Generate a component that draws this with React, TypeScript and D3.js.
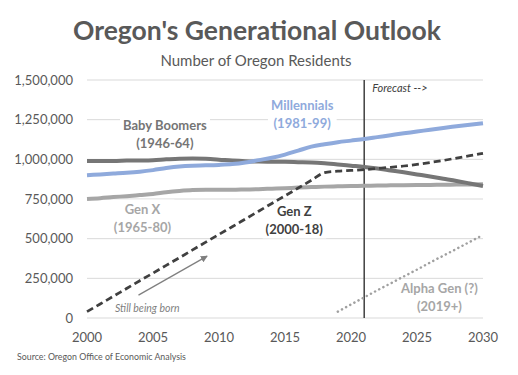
import React, { useLayoutEffect, useRef, useState } from 'react';
import * as d3 from 'd3';

const years = [2000, 2001, 2002, 2003, 2004, 2005, 2006, 2007, 2008, 2009, 2010, 2011, 2012, 2013, 2014, 2015, 2016, 2017, 2018, 2019, 2020, 2021, 2022, 2023, 2024, 2025, 2026, 2027, 2028, 2029, 2030];
const babyBoomers = [990, 990, 990, 992, 993, 995, 1000, 1004, 1005, 1003, 998, 992, 988, 986, 985, 984, 982, 980, 975, 968, 960, 952, 942, 930, 918, 905, 892, 878, 864, 848, 832].map((v) => v * 1000);
const millennials = [900, 905, 910, 915, 922, 932, 945, 955, 960, 962, 965, 970, 980, 995, 1010, 1030, 1055, 1080, 1095, 1108, 1118, 1128, 1140, 1152, 1164, 1175, 1187, 1198, 1208, 1218, 1228].map((v) => v * 1000);
const genX = [750, 755, 762, 768, 775, 782, 792, 800, 806, 808, 808, 808, 810, 812, 815, 818, 822, 825, 828, 830, 832, 833, 835, 836, 837, 838, 839, 840, 841, 842, 843].map((v) => v * 1000);
const genZ = [40, 88, 137, 186, 235, 283, 332, 380, 429, 478, 527, 575, 624, 673, 722, 770, 819, 868, 916, 925, 930, 935, 942, 950, 958, 968, 980, 993, 1008, 1023, 1038].map((v) => v * 1000);
const alphaYears = [2019, 2020, 2021, 2022, 2023, 2024, 2025, 2026, 2027, 2028, 2029, 2030];
const alphaGen = [40, 85, 130, 175, 218, 262, 305, 350, 393, 436, 480, 523].map((v) => v * 1000);

const yTicks = [0, 250000, 500000, 750000, 1000000, 1250000, 1500000];
const xTicks = [2000, 2005, 2010, 2015, 2020, 2025, 2030];
const forecastYear = 2021;

const FONT = 'Lato, "Open Sans", sans-serif';

const W = 518;
const H = 375;
const x = d3.scaleLinear().domain([2000, 2030]).range([87, 483]);
const y = d3.scaleLinear().domain([0, 1500000]).range([318, 80]);

type Series = { name: string; xs: number[]; vals: number[]; color: string; width: number; dash?: string; cap?: string };
const series: Series[] = [
  { name: 'genX', xs: years, vals: genX, color: '#A6A6A6', width: 4 },
  { name: 'boomers', xs: years, vals: babyBoomers, color: '#767676', width: 4 },
  { name: 'millennials', xs: years, vals: millennials, color: '#8FAADC', width: 4 },
  { name: 'genZ', xs: years, vals: genZ, color: '#404040', width: 2.75, dash: '7 4' },
  { name: 'alpha', xs: alphaYears, vals: alphaGen, color: '#A0A0A0', width: 2.5, dash: '0.1 4.6', cap: 'round' },
];

type LabelDef = { lines: string[]; year: number; value: number; color: string; size: number; bg: boolean };
const labels: LabelDef[] = [
  { lines: ['Baby Boomers', '(1946-64)'], year: 2005.9, value: 1185000, color: '#757575', size: 13, bg: true },
  { lines: ['Millennials', '(1981-99)'], year: 2016.3, value: 1308000, color: '#8FAADC', size: 13, bg: true },
  { lines: ['Gen X', '(1965-80)'], year: 2004.2, value: 658000, color: '#A6A6A6', size: 13, bg: true },
  { lines: ['Gen Z', '(2000-18)'], year: 2015.7, value: 640000, color: '#404040', size: 13, bg: true },
  { lines: ['Alpha Gen (?)', '(2019+)'], year: 2026.7, value: 158000, color: '#A6A6A6', size: 13, bg: false },
];

function Label({ d }: { d: LabelDef }) {
  const ref = useRef<SVGTextElement>(null);
  const [box, setBox] = useState<{ x: number; y: number; w: number; h: number } | null>(null);
  useLayoutEffect(() => {
    if (ref.current && d.bg) {
      const b = ref.current.getBBox();
      setBox({ x: b.x, y: b.y, w: b.width, h: b.height });
    }
  }, []);
  const cx = x(d.year);
  const by = y(d.value);
  const lh = d.size * 1.38;
  return (
    <g>
      {box && <rect x={box.x - 3} y={box.y - 1} width={box.w + 6} height={box.h + 2} fill="#fff" />}
      <text ref={ref} x={cx} y={by} textAnchor="middle" fontFamily={FONT} fontWeight={700} fontSize={d.size} fill={d.color}>
        {d.lines.map((l, i) => (
          <tspan key={i} x={cx} dy={i === 0 ? 0 : lh}>
            {l}
          </tspan>
        ))}
      </text>
    </g>
  );
}

export default function App() {
  const line = (xs: number[], vals: number[]) =>
    d3
      .line<number>()
      .x((_, i) => x(xs[i]))
      .y((v) => y(v))
      .curve(d3.curveMonotoneX)(vals) || '';

  return (
    <svg width={W} height={H} style={{ position: 'absolute', left: 0, top: 0, background: '#fff' }}>
      <defs>
        <marker id="arr" viewBox="0 0 10 10" refX="9" refY="5" markerWidth="7" markerHeight="7" orient="auto" markerUnits="userSpaceOnUse">
          <path d="M0,0 L10,5 L0,10 z" fill="#7F7F7F" />
        </marker>
      </defs>
      <text x={257} y={40} textAnchor="middle" fontFamily={FONT} fontWeight={700} fontSize={26.5} fill="#595959">
        Oregon's Generational Outlook
      </text>
      <text x={256} y={66} textAnchor="middle" fontFamily={FONT} fontSize={15} fill="#595959">
        Number of Oregon Residents
      </text>
      {yTicks.map((t) => (
        <g key={t}>
          <line x1={x(2000)} x2={x(2030)} y1={y(t)} y2={y(t)} stroke="#D9D9D9" strokeWidth={1} />
          <text x={73} y={y(t)} dy="0.35em" textAnchor="end" fontFamily={FONT} fontSize={13} fill="#595959">
            {d3.format(',')(t)}
          </text>
        </g>
      ))}
      {xTicks.map((t) => (
        <text key={t} x={x(t)} y={342} textAnchor="middle" fontFamily={FONT} fontSize={13} fill="#595959">
          {t}
        </text>
      ))}
      {labels.map((d, i) => (
        <Label key={i} d={d} />
      ))}
      <line x1={x(forecastYear)} x2={x(forecastYear)} y1={y(1500000)} y2={y(0)} stroke="#404040" strokeWidth={1.5} />
      {series.map((s) => (
        <path
          key={s.name}
          d={line(s.xs, s.vals)}
          fill="none"
          stroke={s.color}
          strokeWidth={s.width}
          strokeDasharray={s.dash}
          strokeLinecap={(s.cap as any) || 'butt'}
        />
      ))}
      <text x={x(forecastYear) + 8} y={92} fontFamily={FONT} fontStyle="italic" fontSize={11} fill="#404040">
        Forecast --&gt;
      </text>
      <line x1={x(2003.9)} y1={y(144000)} x2={x(2009.1)} y2={y(390000)} stroke="#7F7F7F" strokeWidth={1.25} markerEnd="url(#arr)" />
      <text x={115} y={312} fontFamily={FONT} fontStyle="italic" fontSize={10.5} fill="#7F7F7F">
        Still being born
      </text>
      <text x={17} y={360} fontFamily={FONT} fontSize={8.8} fill="#595959">
        Source: Oregon Office of Economic Analysis
      </text>
    </svg>
  );
}
